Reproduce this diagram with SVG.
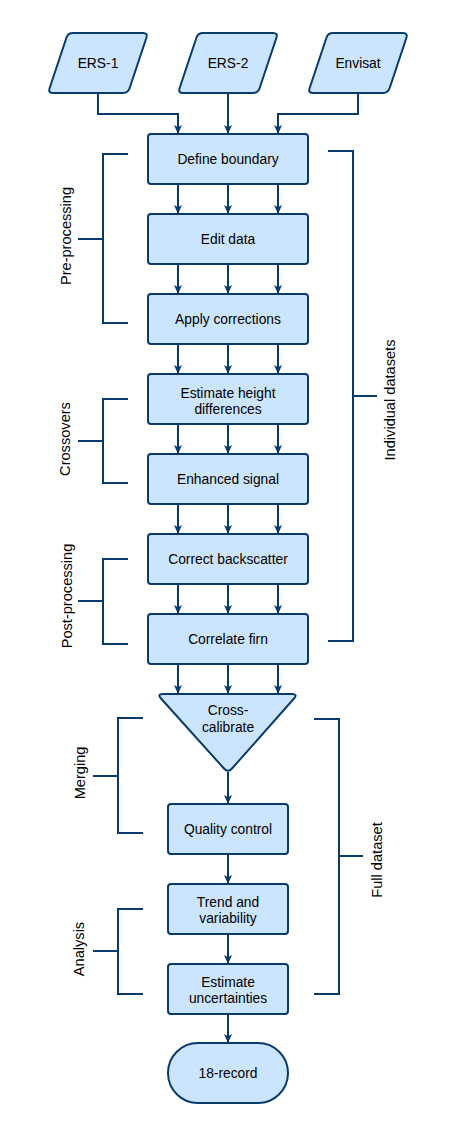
<svg xmlns="http://www.w3.org/2000/svg" width="455" height="1136" viewBox="0 0 455 1136">
<style>
.shape{fill:#cce5ff;stroke:#083b6c;stroke-width:2;stroke-linejoin:round}
.t{font-family:"Liberation Sans",Arial,Helvetica,sans-serif;font-size:13.8px;fill:#000;text-anchor:middle}
.lbl{font-family:"Liberation Sans",Arial,Helvetica,sans-serif;font-size:14.6px;fill:#000;text-anchor:middle}
.c{fill:none;stroke:#083b6c;stroke-width:2;marker-end:url(#ah)}
.br{fill:none;stroke:#083b6c;stroke-width:2}
</style>
<defs>
<marker id="ah" viewBox="0 0 10 10" refX="10" refY="5" markerWidth="9" markerHeight="9" markerUnits="userSpaceOnUse" orient="auto">
<path d="M0,0.5 L10,5 L0,9.5 L2.6,5 Z" fill="#083b6c"/>
</marker>
<path id="para" d="M73,33 L143,33 Q148,33 146.42,37.74 L129.58,88.26 Q128,93 123,93 L53,93 Q48,93 49.58,88.26 L66.42,37.74 Q68,33 73,33 Z"/>
</defs>
<rect width="455" height="1136" fill="#fff"/>

<g id="connectors">
<path class="c" d="M98,93 V114 H178 V134"/>
<path class="c" d="M228,93 V134"/>
<path class="c" d="M358,93 V114 H278 V134"/>
<path class="c" d="M178,184 V214"/><path class="c" d="M228,184 V214"/><path class="c" d="M278,184 V214"/>
<path class="c" d="M178,264 V294"/><path class="c" d="M228,264 V294"/><path class="c" d="M278,264 V294"/>
<path class="c" d="M178,344 V374"/><path class="c" d="M228,344 V374"/><path class="c" d="M278,344 V374"/>
<path class="c" d="M178,424 V454"/><path class="c" d="M228,424 V454"/><path class="c" d="M278,424 V454"/>
<path class="c" d="M178,504 V534"/><path class="c" d="M228,504 V534"/><path class="c" d="M278,504 V534"/>
<path class="c" d="M178,584 V614"/><path class="c" d="M228,584 V614"/><path class="c" d="M278,584 V614"/>
<path class="c" d="M178,664 V694"/><path class="c" d="M228,664 V694"/><path class="c" d="M278,664 V694"/>
<path class="c" d="M228,772 V804"/>
<path class="c" d="M228,854 V884"/>
<path class="c" d="M228,934 V964"/>
<path class="c" d="M228,1014 V1043"/>
</g>

<g id="ers1"><use href="#para" class="shape"/><text class="t" x="98" y="68">ERS-1</text></g>
<g id="ers2"><use href="#para" class="shape" transform="translate(130,0)"/><text class="t" x="228" y="68">ERS-2</text></g>
<g id="envisat"><use href="#para" class="shape" transform="translate(260,0)"/><text class="t" x="358" y="68">Envisat</text></g>

<g id="define-boundary"><rect class="shape" x="148" y="134" width="160" height="50" rx="3"/><text class="t" x="228" y="164">Define boundary</text></g>
<g id="edit-data"><rect class="shape" x="148" y="214" width="160" height="50" rx="3"/><text class="t" x="228" y="244">Edit data</text></g>
<g id="apply-corrections"><rect class="shape" x="148" y="294" width="160" height="50" rx="3"/><text class="t" x="228" y="324">Apply corrections</text></g>
<g id="estimate-height"><rect class="shape" x="148" y="374" width="160" height="50" rx="3"/><text class="t" x="228" y="397.5">Estimate height</text><text class="t" x="228" y="413.5">differences</text></g>
<g id="enhanced-signal"><rect class="shape" x="148" y="454" width="160" height="50" rx="3"/><text class="t" x="228" y="484">Enhanced signal</text></g>
<g id="correct-backscatter"><rect class="shape" x="148" y="534" width="160" height="50" rx="3"/><text class="t" x="228" y="564">Correct backscatter</text></g>
<g id="correlate-firn"><rect class="shape" x="148" y="614" width="160" height="50" rx="3"/><text class="t" x="228" y="644">Correlate firn</text></g>
<g id="cross-calibrate"><path class="shape" d="M163,694 L292,694 Q298,694 294.02,698.49 L231.98,768.51 Q228,773 223.99,768.54 L161.01,698.46 Q157,694 163,694 Z"/><text class="t" x="228" y="715">Cross-</text><text class="t" x="228" y="732">calibrate</text></g>
<g id="quality-control"><rect class="shape" x="168" y="804" width="120" height="50" rx="3"/><text class="t" x="228" y="834">Quality control</text></g>
<g id="trend-variability"><rect class="shape" x="168" y="884" width="120" height="50" rx="3"/><text class="t" x="228" y="907">Trend and</text><text class="t" x="228" y="923">variability</text></g>
<g id="estimate-uncertainties"><rect class="shape" x="168" y="964" width="120" height="50" rx="3"/><text class="t" x="228" y="987">Estimate</text><text class="t" x="228" y="1003">uncertainties</text></g>
<g id="record"><rect class="shape" x="168" y="1043" width="120" height="60" rx="30" ry="30"/><text class="t" x="228" y="1078">18-record</text></g>

<g id="bracket-preprocessing"><path class="br" d="M128,154 H103 V323 H128 M78,239 H103"/><text class="lbl" transform="translate(71,236) rotate(-90)">Pre-processing</text></g>
<g id="bracket-crossovers"><path class="br" d="M128,399 H103 V483 H128 M78,441 H103"/><text class="lbl" transform="translate(70,439) rotate(-90)">Crossovers</text></g>
<g id="bracket-postprocessing"><path class="br" d="M128,559 H103 V644 H128 M78,601 H103"/><text class="lbl" transform="translate(72,596) rotate(-90)">Post-processing</text></g>
<g id="bracket-merging"><path class="br" d="M143,718 H118 V833 H143 M93,776 H118"/><text class="lbl" transform="translate(85,773) rotate(-90)">Merging</text></g>
<g id="bracket-analysis"><path class="br" d="M143,909 H118 V994 H143 M93,951 H118"/><text class="lbl" transform="translate(84,949) rotate(-90)">Analysis</text></g>
<g id="bracket-individual"><path class="br" d="M328,151 H353 V641 H328 M353,396 H377"/><text class="lbl" transform="translate(395,400) rotate(-90)">Individual datasets</text></g>
<g id="bracket-full"><path class="br" d="M314,719 H339 V994 H314 M339,856 H363"/><text class="lbl" transform="translate(382,860) rotate(-90)">Full dataset</text></g>
</svg>
